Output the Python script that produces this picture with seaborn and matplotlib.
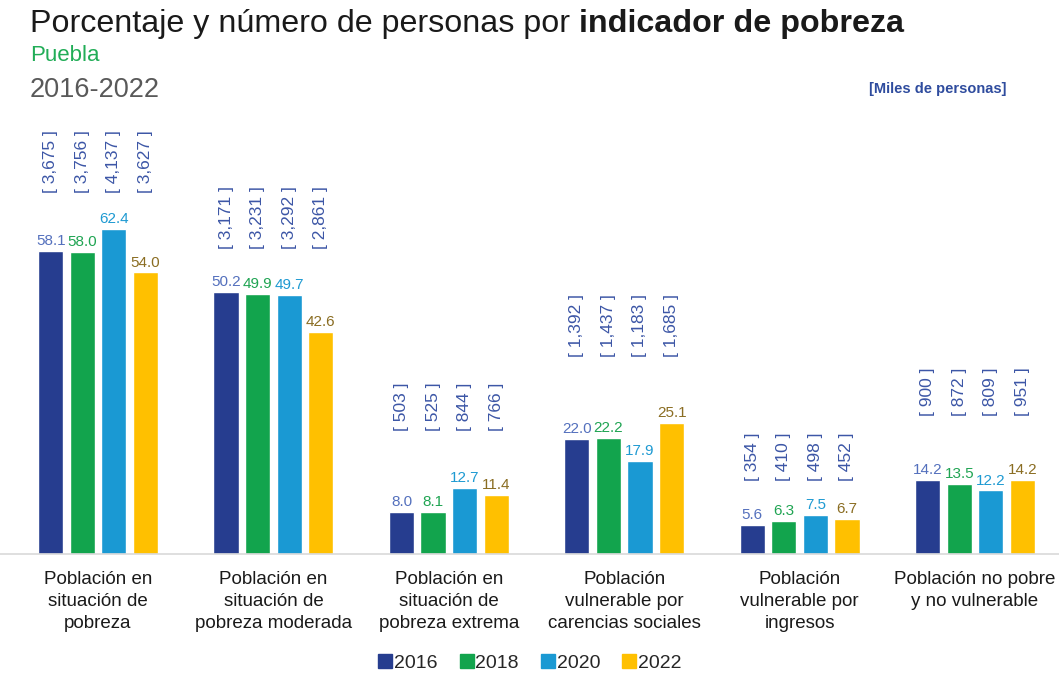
import pandas as pd
import matplotlib.pyplot as plt
from matplotlib.lines import Line2D
import seaborn as sns

# datos
categorias = [
    "Población en\nsituación de\npobreza",
    "Población en\nsituación de\npobreza moderada",
    "Población en\nsituación de\npobreza extrema",
    "Población\nvulnerable por\ncarencias sociales",
    "Población\nvulnerable por\ningresos",
    "Población no pobre\ny no vulnerable",
]
anios = ["2016", "2018", "2020", "2022"]
pct_2016 = [58.1, 50.2, 8.0, 22.0, 5.6, 14.2]
pct_2018 = [58.0, 49.9, 8.1, 22.2, 6.3, 13.5]
pct_2020 = [62.4, 49.7, 12.7, 17.9, 7.5, 12.2]
pct_2022 = [54.0, 42.6, 11.4, 25.1, 6.7, 14.2]
miles_2016 = [3675, 3171, 503, 1392, 354, 900]
miles_2018 = [3756, 3231, 525, 1437, 410, 872]
miles_2020 = [4137, 3292, 844, 1183, 498, 809]
miles_2022 = [3627, 2861, 766, 1685, 452, 951]

pct = [pct_2016, pct_2018, pct_2020, pct_2022]
miles = [miles_2016, miles_2018, miles_2020, miles_2022]

# estilos
colores = ["#263d8f", "#12a44d", "#1a99d3", "#ffc000"]
colores_etiqueta = ["#5470bd", "#1fa452", "#1e9ad2", "#8a6d22"]
color_corchete = "#3c56a6"
pad_corchete = [6.8, 8.3, 10.9, 12.7, 6.5, 12.3]

filas = []
for a, vals, ms in zip(anios, pct, miles):
    for c, v, m in zip(categorias, vals, ms):
        filas.append({"categoria": c, "anio": a, "pct": v, "miles": m})
df = pd.DataFrame(filas)

sns.set_style("white")
plt.rcParams["font.family"] = ["Liberation Sans", "DejaVu Sans"]

fig = plt.figure(figsize=(10.59, 6.77), dpi=100)
ax = fig.add_axes([0.0, 0.1817, 1.0, 0.6547])

sns.barplot(data=df, x="categoria", y="pct", hue="anio", palette=colores,
            saturation=1, width=0.72, gap=0.2, ax=ax, legend=False)

ax.set_xlim(-0.559, 5.479)
ax.set_ylim(0, 85)

# etiquetas de porcentaje
for cont, col in zip(ax.containers, colores_etiqueta):
    ax.bar_label(cont, fmt="%.1f", padding=2, color=col, fontsize=11)

# etiquetas en miles (corchetes)
for i, cat in enumerate(categorias):
    tope = max(p[i] for p in pct) + pad_corchete[i]
    for j, cont in enumerate(ax.containers):
        barra = cont.patches[i]
        xc = barra.get_x() + barra.get_width() / 2
        ax.text(xc, tope, f"[ {miles[j][i]:,} ]", rotation=90, ha="center",
                va="bottom", color=color_corchete, fontsize=12.5)

sns.despine(ax=ax, left=True)
ax.spines["bottom"].set_color("#d9d9d9")
ax.spines["bottom"].set_linewidth(1.2)
ax.set_yticks([])
ax.set_xlabel("")
ax.set_ylabel("")
ax.tick_params(axis="x", length=0, pad=12, labelsize=13.5, labelcolor="#1a1a1a")
for lab in ax.get_xticklabels():
    lab.set_linespacing(1.38)

# títulos
y_tit = 0.952
t = fig.text(0.028, y_tit, "Porcentaje y número de personas por ", fontsize=23.2,
             color="#1a1a1a", va="baseline")
fig.canvas.draw()
bb = t.get_window_extent()
fig.text(bb.x1 / fig.bbox.width, y_tit, "indicador de pobreza", fontsize=23.2,
         fontweight="bold", color="#1a1a1a", va="baseline")
fig.text(0.028, 0.910, "Puebla", fontsize=16, color="#21ad57", va="baseline")
fig.text(0.028, 0.857, "2016-2022", fontsize=19.5, color="#595959", va="baseline")
fig.text(0.95, 0.862, "[Miles de personas]", fontsize=10.5, fontweight="bold",
         color="#2f4c9e", ha="right", va="baseline")

# leyenda
handles = [Line2D([], [], marker="s", linestyle="none", markersize=9.5,
                  markerfacecolor=c, markeredgecolor=c) for c in colores]
fig.legend(handles, anios, loc="lower center", bbox_to_anchor=(0.5, -0.018),
           ncol=4, frameon=False, fontsize=14, handletextpad=0.05,
           columnspacing=1.1, handlelength=0.8)

plt.savefig("out.png", dpi=100)
